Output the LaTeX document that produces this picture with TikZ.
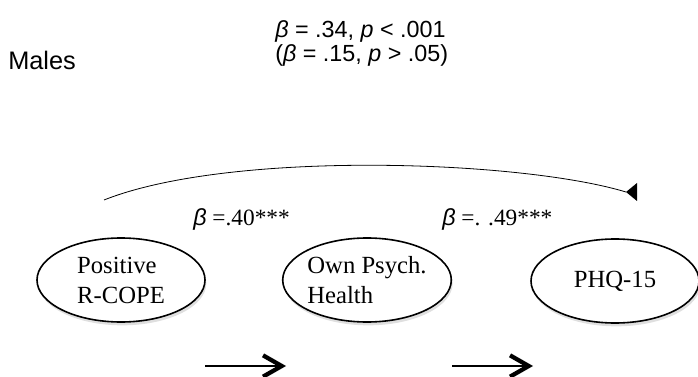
\documentclass[tikz,border=0pt]{standalone}
\usepackage{fontspec}
\setmainfont{Liberation Serif}
\newfontfamily\helv{Liberation Sans}
\usetikzlibrary{shapes.geometric, shadows, arrows.meta}

\begin{document}
\begin{tikzpicture}[x=0.75pt, y=-0.75pt,
    var/.style={ellipse, draw, line width=1.2pt, fill=white, minimum width=126pt, minimum height=63pt, inner sep=0pt, align=left,
        font=\fontsize{18.5}{22.5}\selectfont,
        drop shadow={shadow xshift=1pt, shadow yshift=-2.5pt, opacity=0.25}},
    coef/.style={anchor=base west, inner sep=0pt, font=\fontsize{17.5}{20}\selectfont},
    stat/.style={anchor=base west, inner sep=0pt, font=\helv\fontsize{17.5}{21}\selectfont},
    chevron/.style={line width=0.8pt, -{Straight Barb[length=14pt, width=16pt, line width=3.2pt]}}]
    \useasboundingbox (0,0) rectangle (698,377);

    % Header
    \node[stat, font=\helv\fontsize{19}{22}\selectfont] (group) at (8,70) {Males};
    \node[stat] (total) at (275,38) {\textit{β} = .34, \textit{p} < .001};
    \node[stat] (direct) at (275,62) {(\textit{β} = .15, \textit{p} > .05)};

    % Variables
    \node[var] (rcope) at (121,280) {Positive\\R-COPE};
    \node[var] (health) at (367,280) {Own Psych.\\Health};
    \node[var] (phq) at (615,281) {PHQ-15};

    % Path coefficients
    \node[coef] (apath) at (193,226) {{\helv\itshape β} =.40***};
    \node[coef] (bpath) at (442,226) {{\helv\itshape β} =. .49***};

    % Total effect
    \coordinate (arcstart) at (104,200);
    \coordinate (arcend) at (626,192);
    \draw[line width=0.6pt] (arcstart) .. controls (230,150) and (520,160) .. (arcend);
    \fill (arcend) -- ++(11,-9) -- ++(0,18) -- cycle;

    % Direction arrows
    \coordinate (from1) at (205,366);
    \coordinate (to1) at (286,366);
    \coordinate (from2) at (452,366);
    \coordinate (to2) at (533,366);
    \draw[chevron] (from1) -- (to1);
    \draw[chevron] (from2) -- (to2);

\end{tikzpicture}
\end{document}
